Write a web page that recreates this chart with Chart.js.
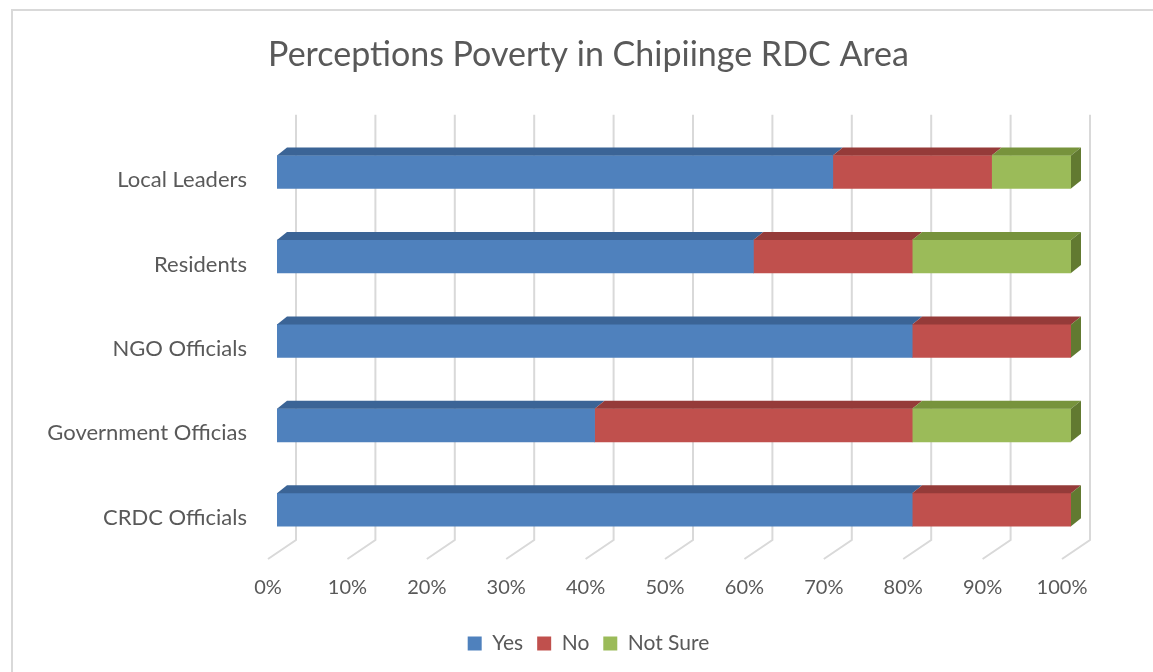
<!DOCTYPE html>
<html>
<head>
<meta charset="utf-8">
<script src="https://cdn.jsdelivr.net/npm/chart.js@4.4.0/dist/chart.umd.min.js"></script>
<style>
html,body{margin:0;padding:0;background:#fff;}
#wrap{width:1153px;height:672px;position:relative;}
</style>
</head>
<body>
<div id="wrap"><canvas id="c" width="1153" height="672"></canvas></div>
<script>
const categories = ['Local Leaders', 'Residents', 'NGO Officials', 'Government Officias', 'CRDC Officials'];
const yesValues = [70, 60, 80, 40, 80];
const noValues = [20, 20, 20, 40, 20];
const notSureValues = [10, 20, 0, 20, 0];
const xTicks = [0, 10, 20, 30, 40, 50, 60, 70, 80, 90, 100];

const FONT = 'Lato, Calibri, "Open Sans", sans-serif';
const TEXT = '#595959';
const GRID = '#D9D9D9';
const topColors = ['#3B6496', '#953B39', '#77933C'];
const sideColors = ['#2F5079', '#7A302E', '#627A31'];
const DX = 10, DY = 8;

const border = {
  id: 'border',
  beforeDraw(chart) {
    const ctx = chart.ctx;
    ctx.save();
    ctx.strokeStyle = GRID;
    ctx.lineWidth = 2;
    ctx.beginPath();
    ctx.moveTo(12, 680);
    ctx.lineTo(12, 10);
    ctx.lineTo(1160, 10);
    ctx.stroke();
    ctx.restore();
  }
};

const grid3d = {
  id: 'grid3d',
  beforeDatasetsDraw(chart) {
    const ctx = chart.ctx;
    const xs = chart.scales.x;
    const area = chart.chartArea;
    const top = area.top - 15;
    const bot = area.bottom - 12;
    ctx.save();
    ctx.strokeStyle = GRID;
    ctx.lineWidth = 2;
    xTicks.forEach(v => {
      const xb = xs.getPixelForValue(v) + 19;
      ctx.beginPath();
      ctx.moveTo(xb, top);
      ctx.lineTo(xb, bot);
      ctx.lineTo(xb - 28, bot + 19);
      ctx.stroke();
    });
    ctx.restore();
  }
};

const bars3d = {
  id: 'bars3d',
  afterDatasetsDraw(chart) {
    const ctx = chart.ctx;
    ctx.save();
    const n = chart.data.datasets.length;
    for (let d = 0; d < n; d++) {
      const meta = chart.getDatasetMeta(d);
      meta.data.forEach(el => {
        const p = el.getProps(['x', 'y', 'base', 'height'], true);
        const t = p.y - p.height / 2;
        const l = Math.min(p.x, p.base), r = Math.max(p.x, p.base);
        if (r - l > 0) {
          ctx.fillStyle = topColors[d];
          ctx.beginPath();
          ctx.moveTo(l, t);
          ctx.lineTo(r, t);
          ctx.lineTo(r + DX, t - DY);
          ctx.lineTo(l + DX, t - DY);
          ctx.closePath();
          ctx.fill();
        }
      });
    }
    const last = chart.getDatasetMeta(n - 1);
    last.data.forEach(el => {
      const p = el.getProps(['x', 'y', 'base', 'height'], true);
      const t = p.y - p.height / 2, b = p.y + p.height / 2;
      const r = Math.max(p.x, p.base);
      ctx.fillStyle = sideColors[n - 1];
      ctx.beginPath();
      ctx.moveTo(r, t);
      ctx.lineTo(r + DX, t - DY);
      ctx.lineTo(r + DX, b - DY);
      ctx.lineTo(r, b);
      ctx.closePath();
      ctx.fill();
    });
    ctx.restore();
  }
};

new Chart(document.getElementById('c'), {
  type: 'bar',
  data: {
    labels: categories,
    datasets: [
      { label: 'Yes', data: yesValues, backgroundColor: '#4F81BD' },
      { label: 'No', data: noValues, backgroundColor: '#C0504D' },
      { label: 'Not Sure', data: notSureValues, backgroundColor: '#9BBB59' }
    ]
  },
  options: {
    indexAxis: 'y',
    responsive: false,
    animation: false,
    devicePixelRatio: 1,
    layout: { padding: { left: 24, right: 0, top: 0, bottom: 8 } },
    datasets: { bar: { barThickness: 33, borderWidth: 0 } },
    scales: {
      x: {
        stacked: true,
        min: 0, max: 100,
        grid: { display: false, drawTicks: false },
        border: { display: false },
        afterBuildTicks(scale) { scale.ticks = xTicks.map(v => ({ value: v })); },
        afterFit(scale) { scale.height = 67; },
        ticks: {
          padding: 24,
          labelOffset: -9,
          color: TEXT,
          font: { family: FONT, size: 20 },
          callback: v => v + '%'
        }
      },
      y: {
        stacked: true,
        grid: { display: false, drawTicks: false },
        border: { display: false },
        afterFit(scale) { scale.width = 253; },
        ticks: {
          padding: 30,
          labelOffset: 8,
          color: TEXT,
          font: { family: FONT, size: 22 }
        }
      },
      yRight: {
        type: 'linear',
        position: 'right',
        display: true,
        grid: { display: false, drawTicks: false },
        border: { display: false },
        ticks: { display: false },
        afterFit(scale) { scale.width = 82; }
      }
    },
    plugins: {
      title: {
        display: true,
        text: 'Perceptions Poverty in Chipiinge RDC Area',
        color: TEXT,
        font: { family: FONT, size: 34, weight: 'normal' },
        padding: { top: 35, bottom: 54 }
      },
      legend: {
        position: 'bottom',
        labels: {
          color: TEXT,
          font: { family: FONT, size: 21 },
          boxWidth: 14,
          boxHeight: 14,
          padding: 14
        }
      },
      tooltip: { enabled: false }
    }
  },
  plugins: [border, grid3d, bars3d]
});
</script>
</body>
</html>
